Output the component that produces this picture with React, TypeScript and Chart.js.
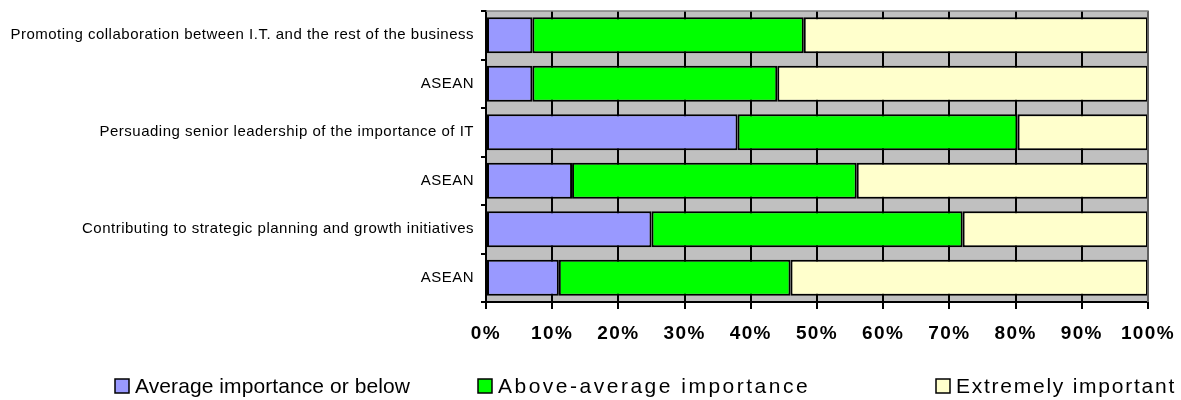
import { useEffect, useRef } from "react";
import { Chart, registerables } from "chart.js";

Chart.register(...registerables);

// Row labels, top to bottom
const categories = [
  "Promoting collaboration between I.T. and the rest of the business",
  "ASEAN",
  "Persuading senior leadership of the importance of IT",
  "ASEAN",
  "Contributing to strategic planning and growth initiatives",
  "ASEAN",
];

// Share of respondents (%) per importance level
const averageOrBelow = [7, 7, 38, 13, 25, 11];
const aboveAverage = [41, 37, 42.3, 43, 47, 35];
const extremelyImportant = [52, 56, 19.7, 44, 28, 54];

const seriesLabels = [
  "Average importance or below",
  "Above-average importance",
  "Extremely important",
];
const seriesColors = ["#9999ff", "#00ff00", "#ffffcc"];

const FONT = "'Liberation Sans', Arial, sans-serif";

// Draws a scale's tick labels with their own letter spacing
function spaceLabels(scale: any, spacing: string) {
  if (!scale || scale.__spaced) return;
  const orig = scale.drawLabels;
  scale.drawLabels = function (area: any) {
    const ctx = this.ctx;
    ctx.save();
    ctx.letterSpacing = spacing;
    orig.call(this, area);
    ctx.restore();
  };
  scale.__spaced = true;
}

// Grey plot-area fill and darker frame
const plotBackground = {
  id: "plotBackground",
  beforeDraw(chart: any) {
    const { ctx, chartArea } = chart;
    spaceLabels(chart.scales.x, "1.4px");
    spaceLabels(chart.scales.y, "0.5px");
    ctx.save();
    ctx.fillStyle = "#c0c0c0";
    ctx.fillRect(
      chartArea.left,
      chartArea.top,
      chartArea.right - chartArea.left,
      chartArea.bottom - chartArea.top
    );
    ctx.restore();
  },
  afterDraw(chart: any) {
    const { ctx, chartArea } = chart;
    ctx.save();
    ctx.strokeStyle = "#808080";
    ctx.lineWidth = 1.5;
    ctx.beginPath();
    ctx.moveTo(chartArea.left, chartArea.top);
    ctx.lineTo(chartArea.right, chartArea.top);
    ctx.lineTo(chartArea.right, chartArea.bottom);
    ctx.stroke();
    ctx.restore();
  },
};

// Legend row along the bottom edge; text spacing stretches toward each entry's end
const bottomLegend = {
  id: "bottomLegend",
  afterDraw(chart: any, _args: any, opts: any) {
    const { ctx } = chart;
    ctx.save();
    ctx.font = `21px ${FONT}`;
    ctx.textBaseline = "middle";
    ctx.textAlign = "left";
    chart.data.datasets.forEach((ds: any, i: number) => {
      const x = opts.starts[i];
      const y = opts.y;
      ctx.fillStyle = ds.backgroundColor;
      ctx.fillRect(x, y - 7, 14, 14);
      ctx.strokeStyle = "#000";
      ctx.lineWidth = 1.5;
      ctx.strokeRect(x, y - 7, 14, 14);
      const textX = x + 20;
      ctx.letterSpacing = "0px";
      const natural = ctx.measureText(ds.label).width;
      const spacing = Math.min(
        2.5,
        Math.max(0, (opts.ends[i] - textX - natural) / ds.label.length)
      );
      ctx.letterSpacing = `${spacing}px`;
      ctx.fillStyle = "#000";
      ctx.fillText(ds.label, textX, y + 1);
    });
    ctx.restore();
  },
};

const zeroPadding = (scale: any) => {
  scale.paddingTop = 0;
  scale.paddingBottom = 0;
  scale.paddingLeft = 0;
  scale.paddingRight = 0;
};

export default function App() {
  const canvasRef = useRef<HTMLCanvasElement | null>(null);

  useEffect(() => {
    document.body.style.margin = "0";
    const canvas = canvasRef.current;
    if (!canvas) return;

    const values = [averageOrBelow, aboveAverage, extremelyImportant];

    const chart = new Chart(canvas, {
      type: "bar",
      data: {
        labels: categories,
        datasets: values.map((data, i) => ({
          label: seriesLabels[i],
          data,
          backgroundColor: seriesColors[i],
          borderColor: "#000",
          borderWidth: 2,
          borderSkipped: false,
          barPercentage: 0.74,
          categoryPercentage: 1,
        })),
      },
      options: {
        indexAxis: "y",
        responsive: false,
        animation: false,
        layout: { padding: { top: 11, right: 33, left: 0, bottom: 0 } },
        plugins: {
          legend: { display: false },
          tooltip: { enabled: false },
          bottomLegend: { starts: [115, 478, 936], ends: [410, 858, 1176], y: 386 },
        } as any,
        scales: {
          x: {
            stacked: true,
            min: 0,
            max: 100,
            afterFit(scale: any) {
              scale.height = 98;
              zeroPadding(scale);
            },
            ticks: {
              stepSize: 10,
              callback: (v: any) => `${v}%`,
              color: "#000",
              font: { family: FONT, size: 19, weight: "bold" },
              padding: 13,
              maxRotation: 0,
            },
            grid: {
              color: "#000",
              lineWidth: 2,
              tickLength: 7,
              drawOnChartArea: true,
            },
            border: { display: true, color: "#000", width: 2 },
          },
          y: {
            stacked: true,
            afterFit(scale: any) {
              scale.width = 486;
              zeroPadding(scale);
            },
            ticks: {
              color: "#000",
              font: { family: FONT, size: 15 },
              padding: 7,
            },
            grid: {
              offset: true,
              drawOnChartArea: false,
              color: "#000",
              lineWidth: 2,
              tickLength: 5,
            },
            border: { display: true, color: "#000", width: 2 },
          },
        },
      },
      plugins: [plotBackground, bottomLegend],
    });

    return () => chart.destroy();
  }, []);

  return (
    <div style={{ width: 1181, height: 400 }}>
      <canvas ref={canvasRef} width={1181} height={400} />
    </div>
  );
}
